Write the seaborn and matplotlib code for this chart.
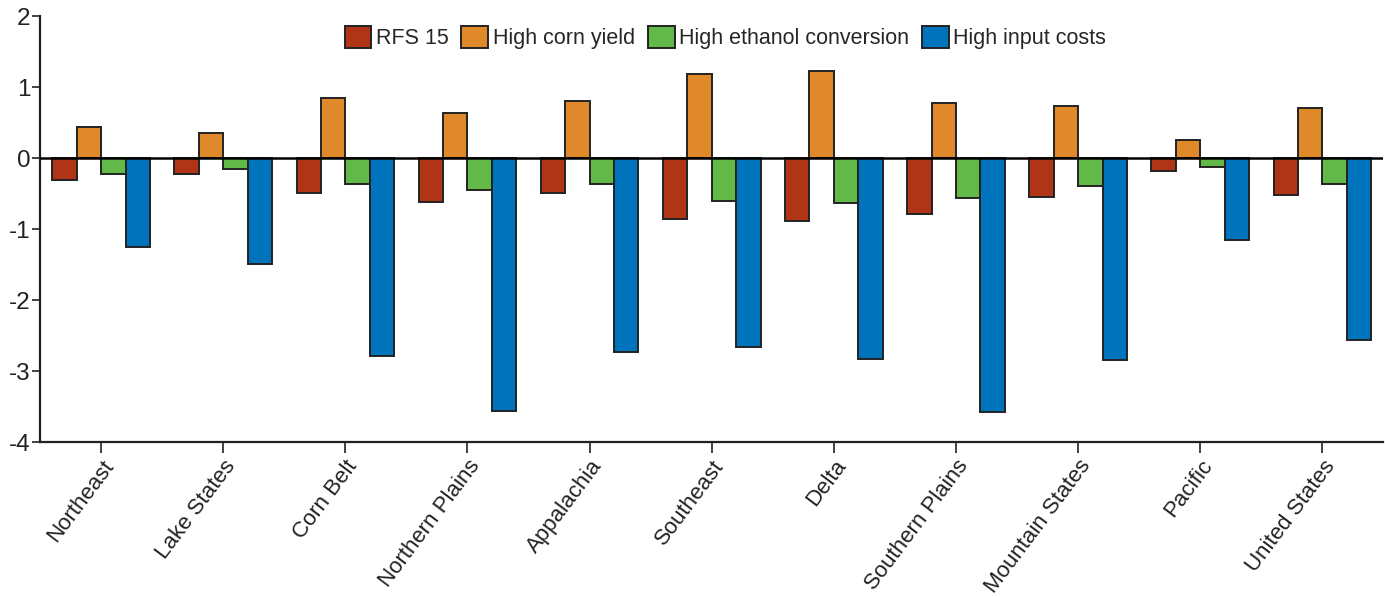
import pandas as pd
import matplotlib
matplotlib.use('Agg')
import matplotlib.pyplot as plt
import seaborn as sns

# 数据
regions = ['Northeast', 'Lake States', 'Corn Belt', 'Northern Plains', 'Appalachia',
           'Southeast', 'Delta', 'Southern Plains', 'Mountain States', 'Pacific',
           'United States']
scenarios = ['RFS 15', 'High corn yield', 'High ethanol conversion', 'High input costs']

rfs15 = [-0.31, -0.22, -0.49, -0.62, -0.49, -0.86, -0.88, -0.79, -0.55, -0.18, -0.52]
corn_yield = [0.44, 0.35, 0.85, 0.63, 0.80, 1.18, 1.23, 0.77, 0.73, 0.25, 0.70]
ethanol_conv = [-0.22, -0.16, -0.36, -0.45, -0.36, -0.61, -0.63, -0.56, -0.39, -0.13, -0.37]
input_costs = [-1.25, -1.49, -2.79, -3.56, -2.73, -2.66, -2.83, -3.58, -2.85, -1.15, -2.56]

colors = ['#B03517', '#E0892A', '#62B947', '#0073BD']


def build_frame():
    """整理成长表"""
    rows = []
    for name, vals in zip(scenarios, [rfs15, corn_yield, ethanol_conv, input_costs]):
        for r, v in zip(regions, vals):
            rows.append({'Region': r, 'Scenario': name, 'Value': v})
    return pd.DataFrame(rows)


def main():
    df = build_frame()

    sns.set_style('white')
    plt.rcParams['font.family'] = ['Liberation Sans', 'DejaVu Sans']
    plt.rcParams['axes.unicode_minus'] = False

    fig = plt.figure(figsize=(13.85, 5.97), dpi=100)
    ax = fig.add_axes([0.0289, 0.2596, 0.970, 0.7134])

    sns.barplot(data=df, x='Region', y='Value', hue='Scenario', order=regions,
                hue_order=scenarios, palette=colors, saturation=1, width=0.8,
                edgecolor='#222222', linewidth=1.4, errorbar=None, ax=ax)

    ax.axhline(0, color='black', linewidth=1.8, zorder=5)
    ax.set_ylim(-4, 2)
    ax.set_xlim(-0.5, 10.5)
    ax.set_yticks([-4, -3, -2, -1, 0, 1, 2])
    ax.set_xlabel('')
    ax.set_ylabel('')

    for s in ['top', 'right']:
        ax.spines[s].set_visible(False)
    for s in ['left', 'bottom']:
        ax.spines[s].set_color('#222222')
        ax.spines[s].set_linewidth(1.6)

    # seaborn white 风格默认关闭刻度线, 这里重新打开
    ax.tick_params(axis='x', bottom=True, direction='out', length=8, width=1.2,
                   color='#222222', labelsize=16, labelcolor='#222222', pad=2)
    ax.tick_params(axis='y', left=True, direction='out', length=6, width=1.2,
                   color='#222222', labelsize=17.5, labelcolor='#222222', pad=1)
    plt.setp(ax.get_xticklabels(), rotation=53, ha='right', rotation_mode='anchor')

    ax.legend(loc='center', bbox_to_anchor=(0.51, 0.95), ncol=4, frameon=False,
              fontsize=15.5, handlelength=1.25, handleheight=1.2, handletextpad=0.2,
              columnspacing=0.6, borderaxespad=0)

    fig.savefig('out.png', dpi=100)
    plt.close(fig)


if __name__ == "__main__":
    main()
